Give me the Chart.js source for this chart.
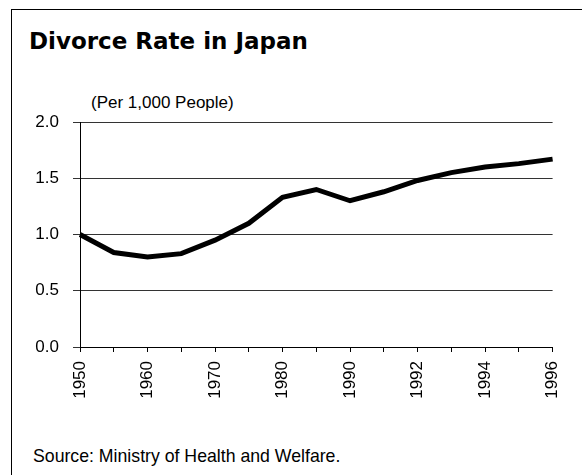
<!DOCTYPE html>
<html>
<head>
<meta charset="utf-8">
<script src="https://cdn.jsdelivr.net/npm/chart.js@4"></script>
<style>
    body { margin: 0; background: #fff; }
    #page { position: relative; width: 582px; height: 475px; overflow: hidden; background: #fff; }
    #frame { position: absolute; left: 11px; top: 9px; width: 700px; height: 600px; border-left: 1.5px solid #000; border-top: 1.5px solid #000; }
    .txt { position: absolute; font-family: "Liberation Sans", Arial, sans-serif; color: #000; white-space: nowrap; line-height: 1; }
    #title { left: 29px; top: 30px; font-family: "DejaVu Sans", sans-serif; font-size: 23px; font-weight: bold; }
    #unit { left: 91px; top: 94px; font-size: 17px; }
    #source { left: 33px; top: 448px; font-size: 17.7px; }
    #chart { position: absolute; left: 0; top: 0; }
</style>
</head>
<body>
<div id="page">
    <div id="frame"></div>
    <div class="txt" id="title">Divorce Rate in Japan</div>
    <div class="txt" id="unit">(Per 1,000 People)</div>
    <div class="txt" id="source">Source: Ministry of Health and Welfare.</div>
    <canvas id="chart" width="582" height="475"></canvas>
</div>
<script>
// Divorce rate per 1,000 people
const years = ['1950', '1955', '1960', '1965', '1970', '1975', '1980', '1985',
    '1990', '1991', '1992', '1993', '1994', '1995', '1996'];
const divorceRate = [1.0, 0.84, 0.80, 0.83, 0.95, 1.10, 1.33, 1.40,
    1.30, 1.38, 1.48, 1.55, 1.60, 1.63, 1.67];
const yTicks = [0, 0.5, 1.0, 1.5, 2.0];

const tickFont = { family: '"Liberation Sans", Arial, sans-serif', size: 17 };

const ctx = document.getElementById('chart').getContext('2d');
new Chart(ctx, {
    type: 'line',
    data: {
        labels: years,
        datasets: [{
            data: divorceRate,
            borderColor: '#000',
            borderWidth: 5,
            pointRadius: 0,
            tension: 0,
            fill: false,
        }],
    },
    options: {
        responsive: false,
        animation: false,
        layout: {
            padding: { left: 0, right: 29, top: 122, bottom: 68 },
        },
        plugins: {
            legend: { display: false },
            tooltip: { enabled: false },
        },
        scales: {
            x: {
                offset: false,
                afterFit: (scale) => { scale.height = 60; },
                grid: { drawOnChartArea: false, drawTicks: true, tickLength: 5, color: '#000', lineWidth: 1 },
                border: { color: '#000', width: 1 },
                ticks: {
                    autoSkip: false,
                    maxRotation: 90,
                    minRotation: 90,
                    padding: 9,
                    color: '#000',
                    font: tickFont,
                    // only every other year gets a label
                    callback: (value, index) => (index % 2 === 0 ? years[index] : ''),
                },
            },
            y: {
                min: 0,
                max: 2,
                afterFit: (scale) => { scale.width = 80; },
                afterBuildTicks: (scale) => { scale.ticks = yTicks.map((v) => ({ value: v })); },
                grid: { color: '#333', lineWidth: 1, tickLength: 7 },
                border: { color: '#000', width: 1 },
                ticks: {
                    padding: 14,
                    color: '#000',
                    font: tickFont,
                    callback: (value) => value.toFixed(1),
                },
            },
        },
    },
});
</script>
</body>
</html>
